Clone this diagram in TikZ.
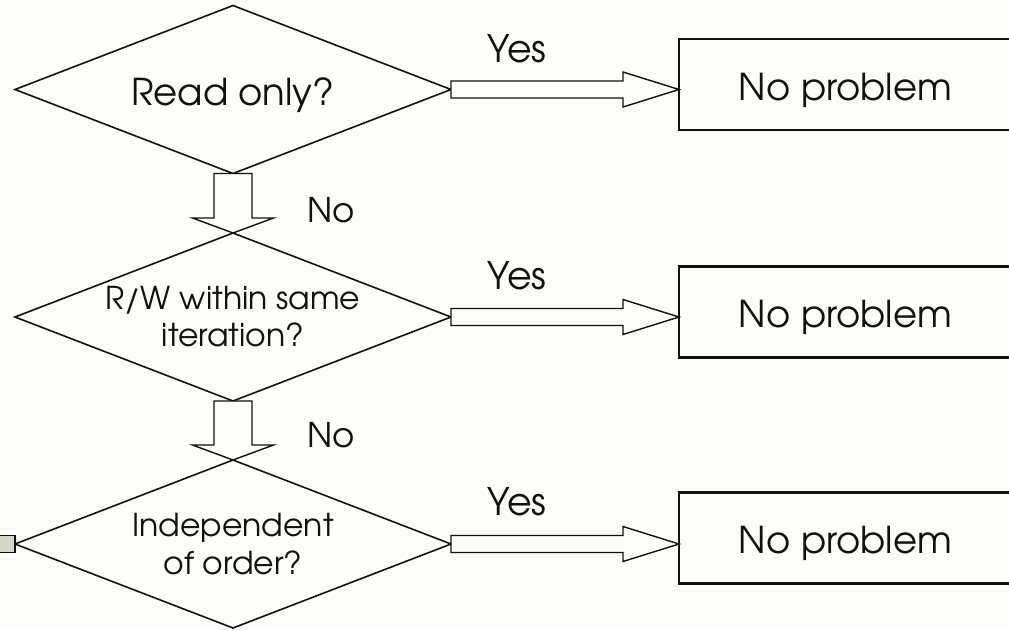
\documentclass[tikz,border=0pt]{standalone}
\usepackage{fontspec}
\setmainfont{TeX Gyre Adventor}
\usetikzlibrary{shapes.geometric,calc}

\definecolor{paper}{HTML}{FCFCF8}
\definecolor{ink}{HTML}{111111}
\definecolor{stub}{HTML}{D6D6CC}

% right-pointing block arrow from a decision's east corner to an outcome box
\newcommand\yesarrow[2]{%
  \draw[fatarrow] ($(#1.east)+(0,-8.5)$) -- ($(#2.west |- #1.east)+(-56,-8.5)$) -- ++(0,-9)
    -- (#2.west |- #1.east) -- ($(#2.west |- #1.east)+(-56,17.5)$) -- ++(0,-9)
    -- ($(#1.east)+(0,8.5)$) -- cycle;}
% downward block arrow from one decision's bottom corner to the next one's top corner
\newcommand\noarrow[2]{%
  \draw[fatarrow] ($(#1.south)+(-19,0)$) -- ($(#2.north)+(-19,-15)$) -- ++(-21.5,0)
    -- (#2.north) -- ($(#2.north)+(40.5,-15)$) -- ++(-21.5,0)
    -- ($(#1.south)+(19,0)$) -- cycle;}

\begin{document}
\begin{tikzpicture}[x=1pt,y=-1pt,
  decision/.style={diamond, aspect=2.576, draw=ink, line width=1.6pt,
    minimum width=436pt, minimum height=168pt, inner sep=0pt, outer sep=0pt,
    align=center, text=ink},
  outcome/.style={rectangle, draw=ink, line width=2.2pt, minimum width=333pt,
    minimum height=91pt, text height=31pt, text depth=0pt, outer sep=0pt,
    font=\fontsize{37}{40}\selectfont, text=ink},
  fatarrow/.style={draw=ink, line width=1.4pt, fill=paper, line join=miter},
  lbl/.style={font=\fontsize{38}{40}\selectfont, text=ink, inner sep=0pt},
]
\fill[paper] (0,0) rectangle (1009,630);
\clip (0,0) rectangle (1009,630);

% decisions
\node[decision, text height=31pt, text depth=0pt, font=\fontsize{37}{40}\selectfont]
  (d1) at (233,89.5) {Read only?};
\node[decision, font=\fontsize{31.5}{37}\selectfont]
  (d2) at (233,317) {R/W within same\\iteration?};
\node[decision, font=\fontsize{31.5}{38}\selectfont]
  (d3) at (233,544) {Independent\\of order?};

% outcomes
\node[outcome] (b1) at (845.5,84.5) {No problem};
\node[outcome] (b2) at (845.5,312) {No problem};
\node[outcome] (b3) at (845.5,538) {No problem};

% connectors
\yesarrow{d1}{b1}
\yesarrow{d2}{b2}
\yesarrow{d3}{b3}
\noarrow{d1}{d2}
\noarrow{d2}{d3}

% "No" branch of the last decision, leaving the page
\coordinate (offpage) at ($(d3.west)+(-30,8.5)$);
\draw[ink, line width=1.4pt, fill=stub] ($(d3.west)+(0,-8.5)$) rectangle (offpage);

% branch labels
\node[lbl] (y1) at (517,49) {Yes};
\node[lbl] (y2) at (517,276) {Yes};
\node[lbl] (y3) at (517,502) {Yes};
\node[lbl, font=\fontsize{34}{40}\selectfont] (n1) at (331,210) {No};
\node[lbl, font=\fontsize{34}{40}\selectfont] (n2) at (331,435) {No};
\end{tikzpicture}
\end{document}
